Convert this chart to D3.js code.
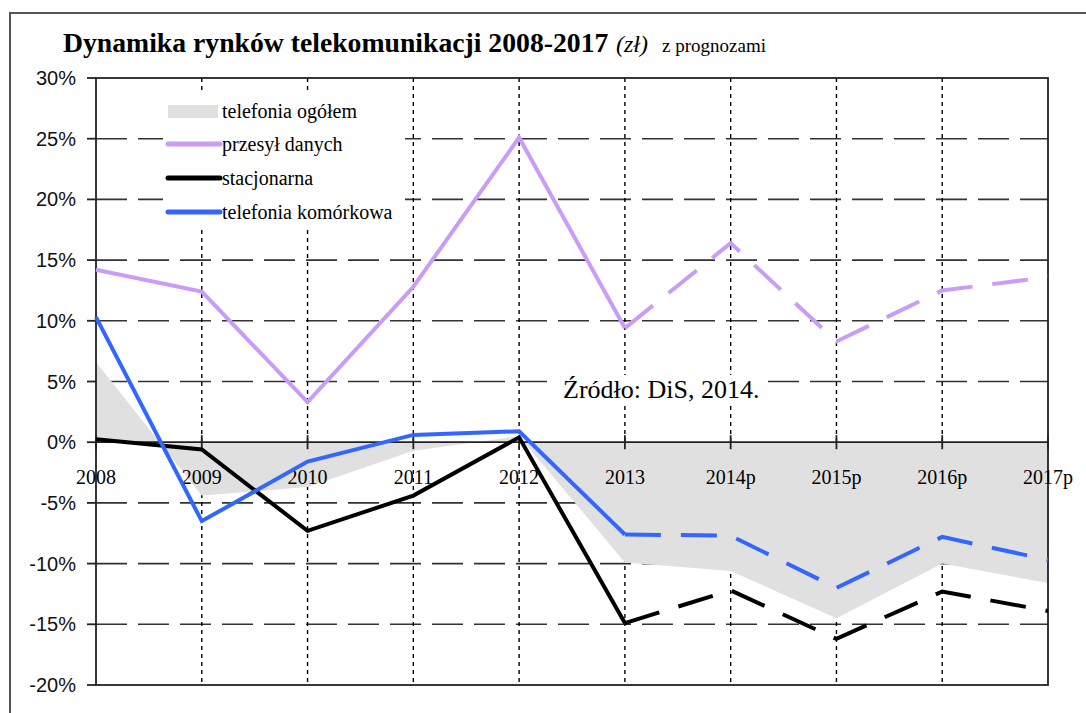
<!DOCTYPE html>
<html>
<head>
<meta charset="utf-8">
<script src="https://cdn.jsdelivr.net/npm/d3@7"></script>
<style>
  html, body { margin: 0; padding: 0; background: #fff; }
  svg { display: block; }
</style>
</head>
<body>
<div id="vis"></div>
<script>
// ---- Data (percent) ----
const years = ["2008", "2009", "2010", "2011", "2012", "2013", "2014p", "2015p", "2016p", "2017p"];
const telefoniaOgolem = [6.6, -4.4, -3.7, -0.7, 0.5, -9.9, -10.6, -14.5, -10.0, -11.6];
const przesylDanych = [14.2, 12.4, 3.3, 12.8, 25.1, 9.4, 16.4, 8.3, 12.5, 13.6];
const stacjonarna = [0.25, -0.6, -7.3, -4.4, 0.4, -14.9, -12.2, -16.2, -12.3, -13.9];
const komorkowa = [10.3, -6.5, -1.6, 0.6, 0.9, -7.6, -7.7, -12.0, -7.8, -9.7];
const yTicks = [30, 25, 20, 15, 10, 5, 0, -5, -10, -15, -20];
const forecastFrom = 5; // 2013 onwards drawn dashed

const legendItems = [
  { label: "telefonia ogółem", type: "area", color: "#e0e0e0" },
  { label: "przesył danych", type: "line", color: "#c99cf7" },
  { label: "stacjonarna", type: "line", color: "#000000" },
  { label: "telefonia komórkowa", type: "line", color: "#3366ff" }
];

const W = 1086, H = 713;
const plot = { left: 96, right: 1048, top: 78, bottom: 685 };
const SERIF = "'Liberation Serif', 'Times New Roman', serif";

const svg = d3.select("#vis").append("svg")
  .attr("width", W)
  .attr("height", H);

svg.append("rect").attr("width", W).attr("height", H).attr("fill", "#fff");

// outer frame
svg.append("rect")
  .attr("x", 10).attr("y", 13)
  .attr("width", W + 20).attr("height", H + 20)
  .attr("fill", "none")
  .attr("stroke", "#555")
  .attr("stroke-width", 2);

const x = d3.scaleLinear().domain([0, years.length - 1]).range([plot.left, plot.right]);
const y = d3.scaleLinear().domain([-20, 30]).range([plot.bottom, plot.top]);

// ---- Title ----
const title = svg.append("g").attr("font-family", SERIF).attr("fill", "#000");
title.append("text").attr("x", 63).attr("y", 52)
  .attr("font-size", 27.7).attr("font-weight", "bold")
  .text("Dynamika rynków telekomunikacji 2008-2017");
title.append("text").attr("x", 616).attr("y", 52)
  .attr("font-size", 24).attr("font-style", "italic")
  .text("(zł)");
title.append("text").attr("x", 662).attr("y", 52)
  .attr("font-size", 19)
  .text("z prognozami");

// ---- Gridlines ----
const grid = svg.append("g");
grid.selectAll("line.h")
  .data(yTicks.filter(t => t !== 0 && t !== 30 && t !== -20))
  .join("line")
  .attr("class", "h")
  .attr("x1", plot.left).attr("x2", plot.right)
  .attr("y1", d => y(d)).attr("y2", d => y(d))
  .attr("stroke", "#333")
  .attr("stroke-width", 1.6)
  .attr("stroke-dasharray", "31 11");

grid.selectAll("line.v")
  .data(d3.range(1, years.length - 1))
  .join("line")
  .attr("class", "v")
  .attr("x1", d => x(d)).attr("x2", d => x(d))
  .attr("y1", plot.top).attr("y2", plot.bottom)
  .attr("stroke", "#000")
  .attr("stroke-width", 1.4)
  .attr("stroke-dasharray", "4 4");

// ---- Area: telefonia ogółem ----
const area = d3.area()
  .x((d, i) => x(i))
  .y0(y(0))
  .y1(d => y(d));

svg.append("path")
  .datum(telefoniaOgolem)
  .attr("d", area)
  .attr("fill", "#e0e0e0");

// ---- Source note ----
const src = svg.append("text")
  .attr("x", 563).attr("y", 398)
  .attr("font-family", SERIF)
  .attr("font-size", 26)
  .attr("fill", "#000")
  .text("Źródło: DiS, 2014.");
const sb = src.node().getBBox();
svg.insert("rect", () => src.node())
  .attr("x", sb.x - 8).attr("y", sb.y)
  .attr("width", sb.width + 16).attr("height", sb.height)
  .attr("fill", "#fff");

// ---- Axes and border ----
const axes = svg.append("g").attr("stroke", "#222").attr("stroke-width", 1.8);
axes.append("rect")
  .attr("x", plot.left).attr("y", plot.top)
  .attr("width", plot.right - plot.left).attr("height", plot.bottom - plot.top)
  .attr("fill", "none");
axes.append("line")
  .attr("x1", plot.left).attr("x2", plot.right)
  .attr("y1", y(0)).attr("y2", y(0));
axes.selectAll("line.yt")
  .data(yTicks)
  .join("line")
  .attr("class", "yt")
  .attr("x1", plot.left - 9).attr("x2", plot.left)
  .attr("y1", d => y(d)).attr("y2", d => y(d));
axes.selectAll("line.xt")
  .data(d3.range(years.length))
  .join("line")
  .attr("class", "xt")
  .attr("x1", d => x(d)).attr("x2", d => x(d))
  .attr("y1", y(0) - 7).attr("y2", y(0) + 7);

// y labels
svg.append("g")
  .attr("font-family", "'Liberation Sans', Arial, sans-serif")
  .attr("font-size", 20)
  .attr("fill", "#111")
  .attr("text-anchor", "end")
  .selectAll("text")
  .data(yTicks)
  .join("text")
  .attr("x", 76)
  .attr("y", d => y(d) + 7)
  .text(d => d + "%");

// x labels
svg.append("g")
  .attr("font-family", SERIF)
  .attr("font-size", 20)
  .attr("fill", "#000")
  .attr("text-anchor", "middle")
  .selectAll("text")
  .data(years)
  .join("text")
  .attr("x", (d, i) => x(i))
  .attr("y", y(0) + 42)
  .text(d => d);

// ---- Lines ----
const line = d3.line().x(d => x(d.i)).y(d => y(d.v));

function drawSeries(values, color, width) {
  const pts = values.map((v, i) => ({ i, v }));
  svg.append("path")
    .datum(pts.slice(0, forecastFrom + 1))
    .attr("d", line)
    .attr("fill", "none")
    .attr("stroke", color)
    .attr("stroke-width", width)
    .attr("stroke-linejoin", "miter");
  svg.append("path")
    .datum(pts.slice(forecastFrom))
    .attr("d", line)
    .attr("fill", "none")
    .attr("stroke", color)
    .attr("stroke-width", width)
    .attr("stroke-dasharray", "36 20");
}

drawSeries(przesylDanych, "#c99cf7", 4);
drawSeries(stacjonarna, "#000000", 4);
drawSeries(komorkowa, "#3366ff", 4);

// ---- Legend ----
const legendRows = [111, 144, 178, 212];
const legend = svg.append("g");
// white box behind legend hides the gridlines
legend.append("rect")
  .attr("x", 163).attr("y", 94)
  .attr("width", 242).attr("height", 134)
  .attr("fill", "#fff");
legendItems.forEach((d, k) => {
  const cy = legendRows[k];
  if (d.type === "area") {
    legend.append("rect")
      .attr("x", 168).attr("y", cy - 6)
      .attr("width", 50).attr("height", 13)
      .attr("fill", d.color);
  } else {
    legend.append("line")
      .attr("x1", 168).attr("x2", 220)
      .attr("y1", cy).attr("y2", cy)
      .attr("stroke", d.color)
      .attr("stroke-width", 5)
      .attr("stroke-linecap", "round");
  }
  legend.append("text")
    .attr("x", 222).attr("y", cy + 7)
    .attr("font-family", SERIF)
    .attr("font-size", 20)
    .attr("fill", "#000")
    .text(d.label);
});
</script>
</body>
</html>
